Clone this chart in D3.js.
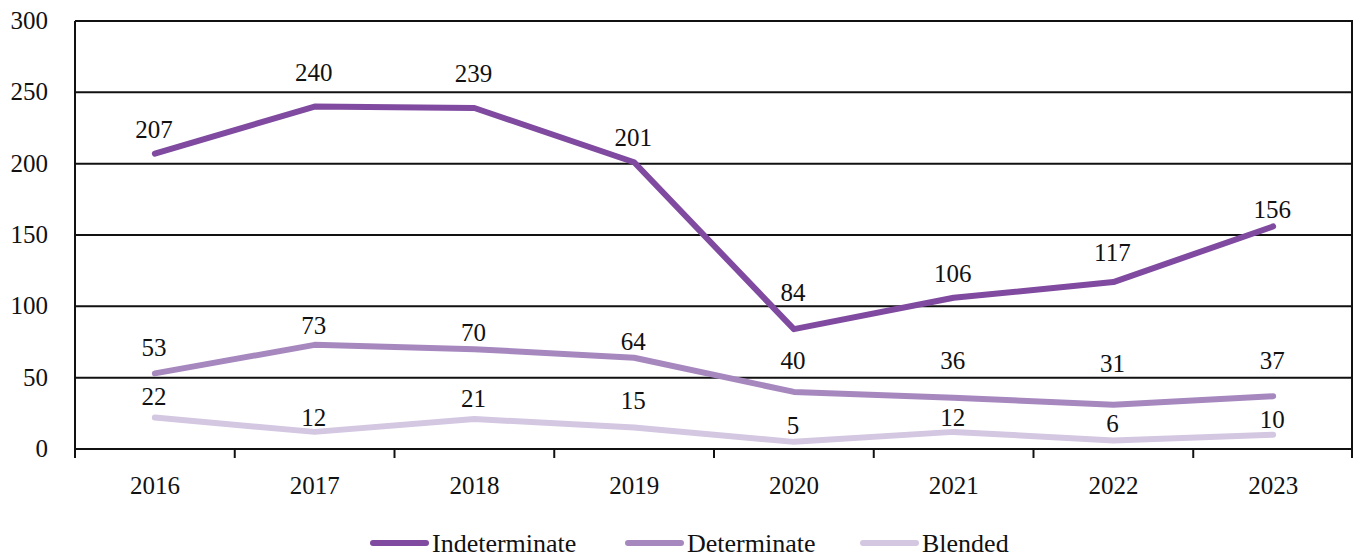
<!DOCTYPE html>
<html>
<head>
<meta charset="utf-8">
<script src="https://cdn.jsdelivr.net/npm/d3@7"></script>
<style>
  body { margin: 0; background: #fff; }
  text { font-family: "Liberation Serif", "Times New Roman", serif; fill: #111; }
</style>
</head>
<body>
<div id="chart"></div>
<script>
// data
var years = ["2016", "2017", "2018", "2019", "2020", "2021", "2022", "2023"]
var indeterminate = [207, 240, 239, 201, 84, 106, 117, 156]
var determinate = [53, 73, 70, 64, 40, 36, 31, 37]
var blended = [22, 12, 21, 15, 5, 12, 6, 10]
var seriesNames = ["Indeterminate", "Determinate", "Blended"]
var yTicks = [0, 50, 100, 150, 200, 250, 300]

// label offsets (px above the point)
var labelOffsets = [
    [-24, -34, -35, -25, -37, -25, -30, -17],
    [-26, -20, -17, -16, -32, -37, -42, -36],
    [-21, -15, -21, -27, -17, -15, -17, -15]
]

var colors = ["#7f4a9f", "#a688bf", "#d4c7e2"]

var chartW = 1358, chartH = 557
var plotLeft = 75, plotRight = 1353, plotTop = 21, plotBottom = 449

var svg = d3.select("#chart").append("svg")
    .attr("width", chartW).attr("height", chartH)

var x = d3.scaleBand().domain(years).range([plotLeft, plotRight]).padding(0)
var y = d3.scaleLinear().domain([0, 300]).range([plotBottom, plotTop])

function cx(d) { return x(d) + x.bandwidth() / 2 }

// gridlines
svg.append("g").selectAll("line")
    .data(yTicks)
    .enter().append("line")
    .attr("x1", plotLeft).attr("x2", plotRight)
    .attr("y1", function(d) { return y(d) }).attr("y2", function(d) { return y(d) })
    .attr("stroke", "#111").attr("stroke-width", 2)

// right border
svg.append("line")
    .attr("x1", plotRight - 1).attr("x2", plotRight - 1)
    .attr("y1", plotTop).attr("y2", plotBottom + 9)
    .attr("stroke", "#111").attr("stroke-width", 2)

// y axis
svg.append("line")
    .attr("x1", plotLeft).attr("x2", plotLeft)
    .attr("y1", plotTop).attr("y2", plotBottom + 9)
    .attr("stroke", "#111").attr("stroke-width", 2)

svg.append("g").selectAll("text")
    .data(yTicks)
    .enter().append("text")
    .attr("x", 48).attr("y", function(d) { return y(d) })
    .attr("dy", "0.32em")
    .attr("text-anchor", "end")
    .attr("font-size", 25)
    .text(function(d) { return d })

// x ticks at category boundaries
svg.append("g").selectAll("line")
    .data(years.slice(1))
    .enter().append("line")
    .attr("x1", function(d) { return x(d) }).attr("x2", function(d) { return x(d) })
    .attr("y1", plotBottom).attr("y2", plotBottom + 9)
    .attr("stroke", "#111").attr("stroke-width", 2)

svg.append("g").selectAll("text")
    .data(years)
    .enter().append("text")
    .attr("x", cx).attr("y", 485)
    .attr("dy", "0.35em")
    .attr("text-anchor", "middle")
    .attr("font-size", 25)
    .text(function(d) { return d })

// lines
var allSeries = [indeterminate, determinate, blended]
var line = d3.line()
    .x(function(d, i) { return cx(years[i]) })
    .y(function(d) { return y(d) })

allSeries.forEach(function(vals, s) {
    svg.append("path")
        .datum(vals)
        .attr("d", line)
        .attr("fill", "none")
        .attr("stroke", colors[s])
        .attr("stroke-width", 6)
        .attr("stroke-linecap", "round")
        .attr("stroke-linejoin", "round")
})

allSeries.forEach(function(vals, s) {
    svg.append("g").selectAll("text")
        .data(vals)
        .enter().append("text")
        .attr("x", function(d, i) { return cx(years[i]) - 1 })
        .attr("y", function(d, i) { return y(d) + labelOffsets[s][i] })
        .attr("dy", "0.35em")
        .attr("text-anchor", "middle")
        .attr("font-size", 25)
        .text(function(d) { return d })
})

// legend
var legendX = [370, 625, 860]
var legend = svg.append("g").selectAll("g")
    .data(seriesNames)
    .enter().append("g")
    .attr("transform", function(d, i) { return "translate(" + legendX[i] + ",543)" })

legend.append("line")
    .attr("x1", 3).attr("x2", 56)
    .attr("stroke", function(d, i) { return colors[i] })
    .attr("stroke-width", 6)
    .attr("stroke-linecap", "round")

legend.append("text")
    .attr("x", 62)
    .attr("dy", "0.35em")
    .attr("font-size", 26)
    .text(function(d) { return d })
</script>
</body>
</html>
